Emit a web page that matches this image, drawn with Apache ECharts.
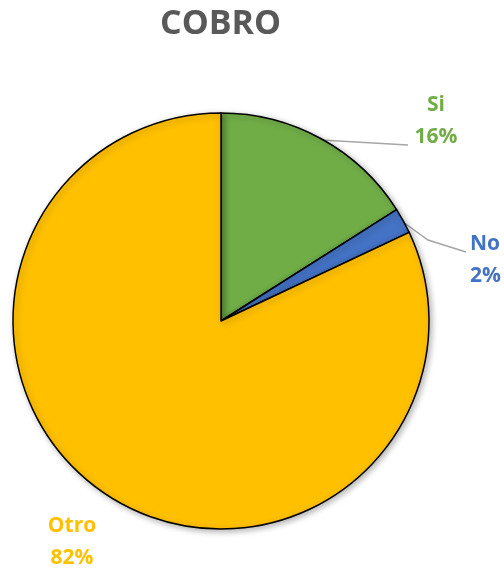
<!DOCTYPE html>
<html>
<head>
<meta charset="utf-8">
<style>
  html, body { margin: 0; padding: 0; background: #ffffff; }
  #chart { width: 504px; height: 571px; }
</style>
<script src="https://cdn.jsdelivr.net/npm/echarts@6/dist/echarts.min.js"></script>
</head>
<body>
<div id="chart"></div>
<script>
// Payment status shares
const categories = ['Si', 'No', 'Otro'];
const shares = [16, 2, 82];
const sliceColors = ['#70AD47', '#4472C4', '#FFC000'];

// Where each label sits and where its leader line runs
const labelSpots = [
  { x: 436, y: 121, align: 'center', line: [[321, 140], [408, 145]] },
  { x: 470, y: 260, align: 'left', line: [[403, 222], [428, 240], [466, 252]] },
  { x: 72, y: 542, align: 'center', line: null }
];

const chart = echarts.init(document.getElementById('chart'), null, { renderer: 'canvas' });

chart.setOption({
  animation: false,
  title: {
    text: 'COBRO',
    left: 155,
    top: 2,
    textStyle: {
      fontFamily: 'Open Sans',
      fontWeight: 'bold',
      fontSize: 34,
      color: '#595959'
    }
  },
  series: [{
    type: 'pie',
    center: [221, 321],
    radius: 208,
    startAngle: 90,
    clockwise: true,
    data: categories.map((name, i) => ({
      name: name,
      value: shares[i],
      itemStyle: { color: sliceColors[i] },
      label: { color: sliceColors[i] }
    })),
    itemStyle: {
      borderColor: '#000000',
      borderWidth: 1.5,
      shadowBlur: 6,
      shadowOffsetX: 2,
      shadowOffsetY: 2,
      shadowColor: 'rgba(0,0,0,0.3)'
    },
    label: {
      show: true,
      formatter: '{b}\n{d}%',
      fontFamily: 'Open Sans',
      fontWeight: 'bold',
      fontSize: 21,
      lineHeight: 32
    },
    labelLine: {
      show: true,
      lineStyle: { color: '#a6a6a6', width: 1.5 }
    },
    labelLayout: function (params) {
      const spot = labelSpots[params.dataIndex];
      const out = { x: spot.x, y: spot.y, align: spot.align, verticalAlign: 'middle' };
      if (spot.line) {
        out.labelLinePoints = spot.line;
      } else {
        out.labelLinePoints = [[spot.x, spot.y], [spot.x, spot.y]];
      }
      return out;
    },
    emphasis: { disabled: true }
  }]
});
</script>
</body>
</html>
